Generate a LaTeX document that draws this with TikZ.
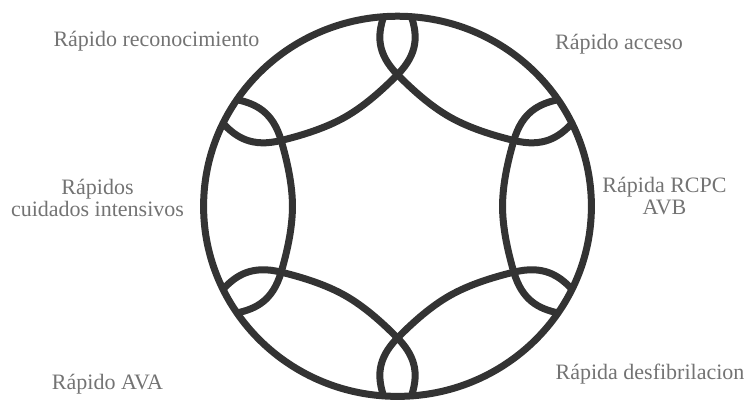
\documentclass[tikz,border=0pt]{standalone}
\usepackage{fontspec}
\setmainfont{Liberation Serif}
\usepackage{xcolor}
\tikzset{
  eslabon/.style={draw=black!80, line width=7pt, line join=round},
  rotulo/.style={text=black!55, font=\fontsize{22}{22}\selectfont, align=center, inner sep=0pt, anchor=base},
}
\begin{document}
\begin{tikzpicture}[x=1pt, y=1pt]
  \useasboundingbox (0,0) rectangle (748,-407);
  % cadena de seis eslabones
  \begin{scope}[shift={(397.5,-206.3)}, xscale=1.01, yscale=0.99]
    \draw[eslabon] (0,0) circle (192);
    \foreach \giro in {0,60,...,300} {
      \draw[eslabon, rotate=\giro] (34.19:191.5)
        .. controls (36.43:174.1) and (37.68:156.0) .. (30:133)
        .. controls (22.57:118.2) and (11.9:106.3) .. (0:104)
        .. controls (-11.9:106.3) and (-22.57:118.2) .. (-30:133)
        .. controls (-37.68:156.0) and (-36.43:174.1) .. (-34.19:191.5);
    }
  \end{scope}

  \node[rotulo] (reconocimiento) at (156.5,-46) {Rápido reconocimiento};
  \node[rotulo] (acceso) at (619,-49) {Rápido acceso};
  \node[rotulo] (cuidados) at (97.5,-216) {Rápidos\\cuidados intensivos};
  \node[rotulo] (rcpc) at (664.5,-214.5) {Rápida RCPC\\AVB};
  \node[rotulo] (ava) at (107.5,-389) {Rápido AVA};
  \node[rotulo] (desfibrilacion) at (650,-379) {Rápida desfibrilacion};
\end{tikzpicture}
\end{document}
